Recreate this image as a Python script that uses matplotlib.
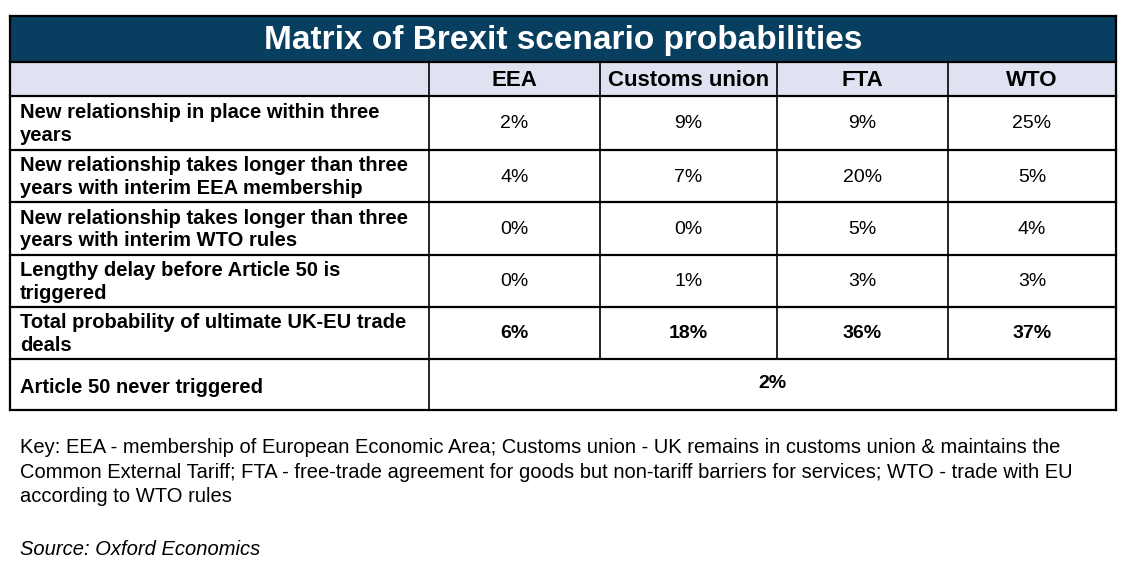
import matplotlib.pyplot as plt
from matplotlib.patches import Rectangle

title = "Matrix of Brexit scenario probabilities"
columns = ["EEA", "Customs union", "FTA", "WTO"]
row_labels = [
    "New relationship in place within three\nyears",
    "New relationship takes longer than three\nyears with interim EEA membership",
    "New relationship takes longer than three\nyears with interim WTO rules",
    "Lengthy delay before Article 50 is\ntriggered",
    "Total probability of ultimate UK-EU trade\ndeals",
]
values = [
    ["2%", "9%", "9%", "25%"],
    ["4%", "7%", "20%", "5%"],
    ["0%", "0%", "5%", "4%"],
    ["0%", "1%", "3%", "3%"],
    ["6%", "18%", "36%", "37%"],
]
last_label = "Article 50 never triggered"
last_value = "2%"
key_text = ("Key: EEA - membership of European Economic Area; Customs union - UK remains in customs union & maintains the\n"
            "Common External Tariff; FTA - free-trade agreement for goods but non-tariff barriers for services; WTO - trade with EU\n"
            "according to WTO rules")
source_text = "Source: Oxford Economics"

plt.rcParams['font.family'] = ['Liberation Sans', 'DejaVu Sans']

fig = plt.figure(figsize=(11.22, 5.75), dpi=100)
ax = fig.add_axes([0, 0, 1, 1])
ax.set_xlim(0, 1122)
ax.set_ylim(575, 0)
ax.axis('off')

left, right = 10, 1116
col_x = [429, 600, 777, 948, right]
title_top, title_bot = 16, 62
head_bot = 96
row_y = [96, 150, 202, 255, 307, 359, 410]

navy = '#083f60'
lavender = '#dfe3f1'

ax.add_patch(Rectangle((left, title_top), right - left, title_bot - title_top, facecolor=navy, edgecolor='none'))
ax.add_patch(Rectangle((left, title_bot), right - left, head_bot - title_bot, facecolor=lavender, edgecolor='none'))
ax.text((left + right) / 2, (title_top + title_bot) / 2 + 1, title, color='white', fontsize=24,
        fontweight='bold', ha='center', va='center')

lw = 1.6
# horizontal lines
for y in [title_top, title_bot, head_bot] + row_y[1:]:
    ax.plot([left, right], [y, y], color='black', lw=lw, solid_capstyle='projecting')
# vertical outer lines
ax.plot([left, left], [title_top, row_y[-1]], color='black', lw=lw)
ax.plot([right, right], [title_top, row_y[-1]], color='black', lw=lw)
# inner column lines
for x in col_x[:-1]:
    ax.plot([x, x], [title_bot, row_y[-2]], color='black', lw=1.2)
ax.plot([col_x[0], col_x[0]], [row_y[-2], row_y[-1]], color='black', lw=1.2)

for j, c in enumerate(columns):
    ax.text((col_x[j] + col_x[j + 1]) / 2, (title_bot + head_bot) / 2 + 1, c, fontsize=16,
            fontweight='bold', ha='center', va='center')

for i, lab in enumerate(row_labels):
    y0, y1 = row_y[i], row_y[i + 1]
    bold = i == len(row_labels) - 1
    ax.text(20, (y0 + y1) / 2 + 1, lab, fontsize=14.5, fontweight='bold', ha='left', va='center',
            linespacing=1.25)
    for j, v in enumerate(values[i]):
        ax.text((col_x[j] + col_x[j + 1]) / 2, (y0 + y1) / 2 + 1, v, fontsize=14,
                fontweight='bold' if bold else 'normal', ha='center', va='center')

ax.text(20, (row_y[-2] + row_y[-1]) / 2 + 3, last_label, fontsize=14.5, fontweight='bold',
        ha='left', va='center')
ax.text((col_x[0] + right) / 2, (row_y[-2] + row_y[-1]) / 2 - 1, last_value, fontsize=14,
        fontweight='bold', ha='center', va='center')

ax.text(20, 438, key_text, fontsize=14.5, ha='left', va='top', linespacing=1.38)
ax.text(20, 540, source_text, fontsize=14.5, style='italic', ha='left', va='top')

fig.savefig('out.png', dpi=100, facecolor='white')
